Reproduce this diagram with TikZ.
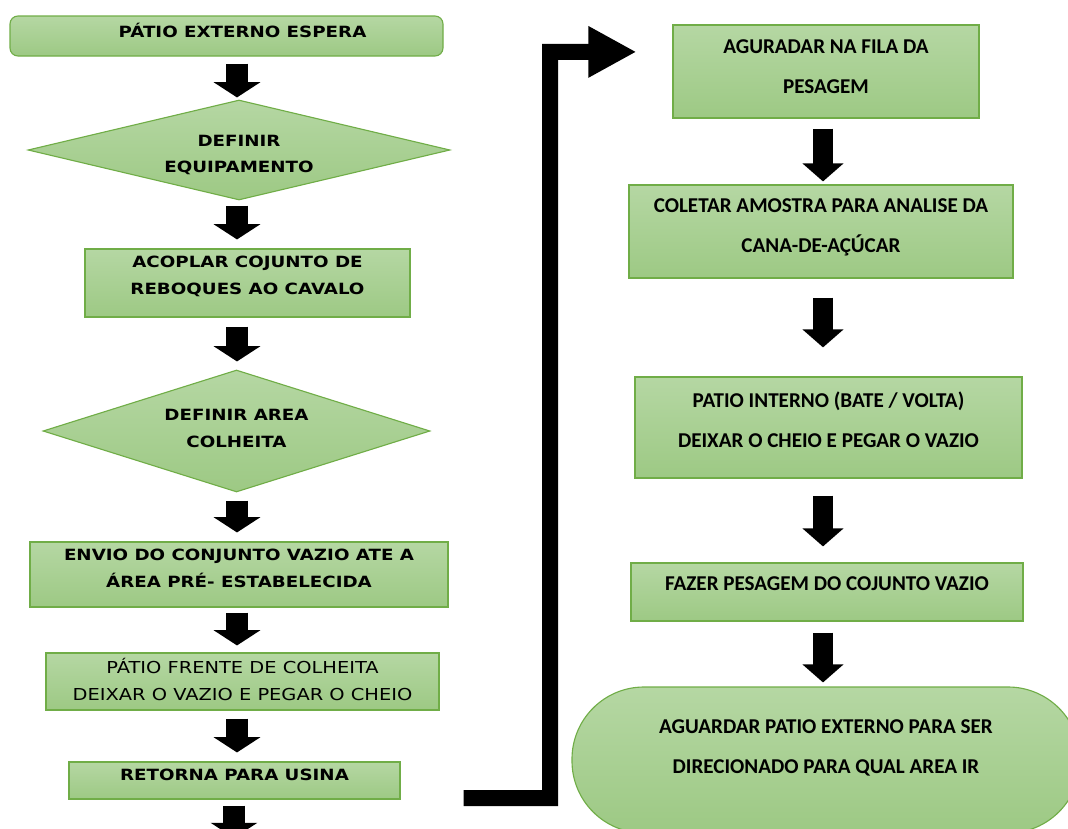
\documentclass[tikz,border=0pt]{standalone}
\usepackage{fontspec}
\newfontfamily\leftfont[FakeStretch=1.18]{DejaVu Sans}
\newfontfamily\rightfont{Carlito}
\definecolor{stepgreen}{HTML}{70AD47}
\definecolor{steptop}{HTML}{B5D7A3}
\definecolor{stepbottom}{HTML}{9DC984}
\usepackage{tikz}
\usetikzlibrary{arrows.meta, shapes.geometric, calc}
\tikzset{
  boxw/.style={minimum width=#1*0.025cm},
  boxh/.style={minimum height=#1*0.025cm}
}

\begin{document}
\begin{tikzpicture}[
    x=0.025cm, y=-0.025cm,
    stepbox/.style={draw=stepgreen, line width=0.8pt, top color=steptop,
                    bottom color=stepbottom, inner sep=0pt},
    decision/.style={stepbox, diamond},
    lefttext/.style={font=\leftfont\bfseries\fontsize{11}{19}\selectfont, align=center},
    righttext/.style={font=\rightfont\bfseries\fontsize{15}{28.5}\selectfont, align=center},
    flowL/.style={line width=0.55cm, -{Triangle[length=0.38cm, width=1.15cm]}},
    flowR/.style={line width=0.5cm, -{Triangle[length=0.45cm, width=1cm]}}
  ]
    \clip (0,0) rectangle (1068,829);

    % left column
    \node[stepbox, rounded corners=0.2cm, boxw=433, boxh=40,
      label={[lefttext, xshift=0.4cm, yshift=0.15cm]center:PÁTIO EXTERNO ESPERA}] (patio) at (226.5,36) {};
    \node[decision, boxw=422, boxh=100,
      label={[lefttext, yshift=-0.125cm]center:{DEFINIR\\EQUIPAMENTO}}] (equip) at (239,150) {};
    \node[stepbox, boxw=325, boxh=68,
      label={[lefttext, yshift=0.16cm]center:{ACOPLAR COJUNTO DE\\REBOQUES AO CAVALO}}] (acoplar) at (247.5,283) {};
    \node[decision, boxw=387, boxh=122,
      label={[lefttext, yshift=0.06cm]center:{DEFINIR AREA\\COLHEITA}}] (area) at (236.5,431) {};
    \node[stepbox, boxw=418, boxh=65,
      label={[lefttext, yshift=0.15cm]center:{ENVIO DO CONJUNTO VAZIO ATE A\\ÁREA PRÉ- ESTABELECIDA}}] (envio) at (239,574.5) {};
    \node[stepbox, boxw=393, boxh=57,
      label={[lefttext, font=\leftfont\fontsize{11.7}{19}\selectfont, yshift=0.05cm]center:{PÁTIO FRENTE DE COLHEITA\\DEIXAR O VAZIO E PEGAR O CHEIO}}] (frente) at (242.5,681.5) {};
    \node[stepbox, boxw=331, boxh=37,
      label={[lefttext, yshift=0.14cm]center:RETORNA PARA USINA}] (retorna) at (234.5,780.5) {};

    % right column
    \node[stepbox, boxw=306, boxh=93,
      label={[righttext, yshift=0.11cm]center:{AGURADAR NA FILA DA\\PESAGEM}}] (fila) at (826,71.5) {};
    \node[stepbox, boxw=384, boxh=93,
      label={[righttext, yshift=0.11cm]center:{COLETAR AMOSTRA PARA ANALISE DA\\CANA-DE-AÇÚCAR}}] (amostra) at (821,231.5) {};
    \node[stepbox, boxw=387, boxh=101,
      label={[righttext, yshift=0.19cm]center:{PATIO INTERNO (BATE / VOLTA)\\DEIXAR O CHEIO E PEGAR O VAZIO}}] (interno) at (828.5,427.5) {};
    \node[stepbox, boxw=392, boxh=58,
      label={[righttext, yshift=0.22cm]center:FAZER PESAGEM DO COJUNTO VAZIO}] (pesagem) at (827,592) {};
    \node[stepbox, rounded corners=1.8cm, boxw=508, boxh=146,
      label={[righttext, yshift=0.31cm]center:{AGUARDAR PATIO EXTERNO PARA SER\\DIRECIONADO PARA QUAL AREA IR}}] (aguardar) at (826,760) {};

    % arrows
    \coordinate (colL) at (237,0);
    \coordinate (colR) at (823,0);
    \coordinate (nextstep) at (234,838);
    \draw[flowL, shorten <=0.175cm, shorten >=0.05cm] (patio.south -| colL) -- (equip.north -| colL);
    \draw[flowL, shorten <=0.125cm, shorten >=0.225cm] (equip.south -| colL) -- (acoplar.north -| colL);
    \draw[flowL, shorten <=0.225cm, shorten >=0.2cm] (acoplar.south -| colL) -- (area.north -| colL);
    \draw[flowL, shorten <=0.2cm, shorten >=0.225cm] (area.south -| colL) -- (envio.north -| colL);
    \draw[flowL, shorten <=0.125cm, shorten >=0.175cm] (envio.south -| colL) -- (frente.north -| colL);
    \draw[flowL, shorten <=0.2cm, shorten >=0.225cm] (frente.south -| colL) -- (retorna.north -| colL);
    \draw[flowL, shorten <=0.15cm] (retorna.south -| nextstep) -- (nextstep);

    \draw[flowR, shorten <=0.25cm, shorten >=0.075cm] (fila.south -| colR) -- (amostra.north -| colR);
    \draw[flowR, shorten <=0.475cm, shorten >=0.725cm] (amostra.south -| colR) -- (interno.north -| colR);
    \draw[flowR, shorten <=0.425cm, shorten >=0.4cm] (interno.south -| colR) -- (pesagem.north -| colR);
    \draw[flowR, shorten <=0.275cm, shorten >=0.1cm] (pesagem.south -| colR) -- (aguardar.north -| colR);

    % return to the plant
    \coordinate (usina) at ([xshift=1.575cm, yshift=-0.4375cm]retorna.east);
    \draw[line width=0.4cm, -{Triangle[length=1.2cm, width=1.2cm]}]
      (usina) -- (550,798) |- ([xshift=-0.9cm, yshift=0.49cm]fila.west);
  \end{tikzpicture}
\end{document}
